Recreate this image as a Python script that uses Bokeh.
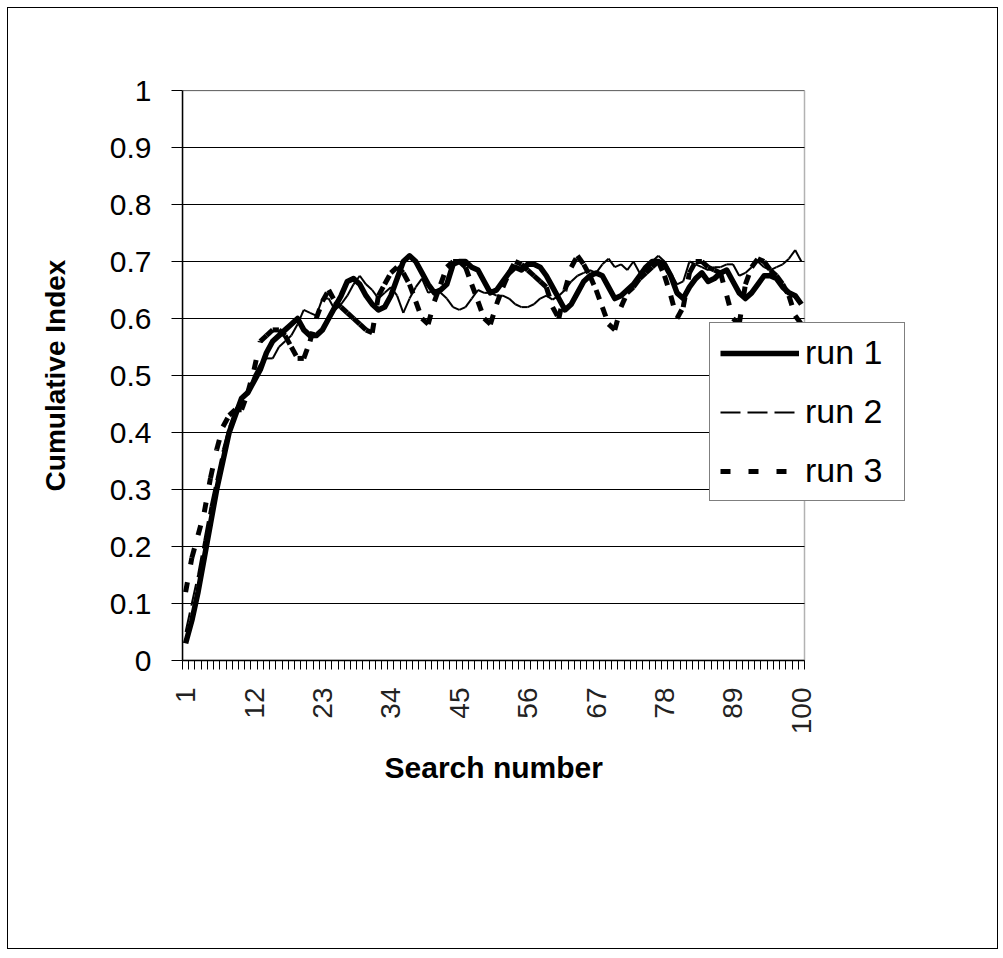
import numpy as np
from bokeh.plotting import figure
from bokeh.models import (FixedTicker, NumeralTickFormatter, Legend, LegendItem,
                          ColumnDataSource, BoxAnnotation, Title)
from bokeh.embed import file_html
from bokeh.resources import INLINE

search = list(range(1, 101))

run1 = [0.03, 0.07, 0.12, 0.18, 0.24, 0.30, 0.35, 0.40, 0.43, 0.46,
        0.47, 0.49, 0.51, 0.54, 0.56, 0.57, 0.58, 0.59, 0.60, 0.58,
        0.57, 0.57, 0.58, 0.60, 0.62, 0.64, 0.665, 0.67, 0.66, 0.64,
        0.625, 0.615, 0.62, 0.64, 0.67, 0.70, 0.71, 0.70, 0.68, 0.66,
        0.645, 0.65, 0.66, 0.695, 0.70, 0.70, 0.69, 0.685, 0.665, 0.645,
        0.65, 0.665, 0.68, 0.69, 0.685, 0.695, 0.695, 0.69, 0.675, 0.655,
        0.635, 0.615, 0.625, 0.645, 0.665, 0.675, 0.68, 0.675, 0.655, 0.635,
        0.64, 0.65, 0.66, 0.675, 0.69, 0.70, 0.70, 0.695, 0.675, 0.645,
        0.635, 0.655, 0.67, 0.68, 0.665, 0.67, 0.68, 0.685, 0.665, 0.645,
        0.635, 0.645, 0.66, 0.675, 0.675, 0.67, 0.655, 0.645, 0.64, 0.625]

run2 = [0.05, 0.10, 0.15, 0.21, 0.27, 0.32, 0.37, 0.41, 0.44, 0.46,
        0.47, 0.50, 0.52, 0.53, 0.53, 0.55, 0.56, 0.57, 0.59, 0.615,
        0.61, 0.605, 0.635, 0.635, 0.615, 0.625, 0.64, 0.66, 0.675, 0.66,
        0.65, 0.635, 0.645, 0.655, 0.64, 0.61, 0.635, 0.655, 0.67, 0.645,
        0.65, 0.645, 0.635, 0.62, 0.615, 0.62, 0.635, 0.65, 0.645, 0.645,
        0.64, 0.64, 0.635, 0.625, 0.62, 0.62, 0.625, 0.635, 0.64, 0.633,
        0.64, 0.65, 0.665, 0.675, 0.68, 0.685, 0.68, 0.695, 0.705, 0.69,
        0.695, 0.685, 0.70, 0.68, 0.69, 0.70, 0.71, 0.70, 0.68, 0.66,
        0.665, 0.70, 0.695, 0.69, 0.685, 0.69, 0.69, 0.695, 0.695, 0.675,
        0.68, 0.69, 0.70, 0.69, 0.685, 0.69, 0.695, 0.705, 0.72, 0.70]

run3 = [0.12, 0.18, 0.22, 0.26, 0.32, 0.37, 0.41, 0.43, 0.44, 0.44,
        0.47, 0.51, 0.56, 0.57, 0.58, 0.58, 0.57, 0.55, 0.53, 0.53,
        0.56, 0.60, 0.63, 0.65, 0.63, 0.62, 0.61, 0.60, 0.59, 0.58,
        0.575, 0.64, 0.66, 0.68, 0.69, 0.68, 0.66, 0.63, 0.60, 0.59,
        0.63, 0.66, 0.69, 0.70, 0.70, 0.69, 0.66, 0.63, 0.60, 0.59,
        0.625, 0.655, 0.68, 0.70, 0.695, 0.685, 0.675, 0.665, 0.655, 0.62,
        0.60, 0.65, 0.69, 0.71, 0.695, 0.675, 0.65, 0.62, 0.59, 0.58,
        0.62, 0.645, 0.655, 0.67, 0.68, 0.69, 0.70, 0.675, 0.64, 0.60,
        0.62, 0.68, 0.70, 0.70, 0.69, 0.685, 0.68, 0.64, 0.60, 0.59,
        0.66, 0.69, 0.705, 0.70, 0.685, 0.675, 0.66, 0.64, 0.605, 0.59]

series_names = ["run 1", "run 2", "run 3"]
x_tick_values = [1, 12, 23, 34, 45, 56, 67, 78, 89, 100]
y_tick_values = [0, 0.1, 0.2, 0.3, 0.4, 0.5, 0.6, 0.7, 0.8, 0.9, 1]
x_title = "Search number"
y_title = "Cumulative Index"

FONT = "Liberation Sans"

# plot area spans categories 0.5 .. 100.5 ; the frame is widened to the right
# so that the legend (which overlaps the plot area edge) is not clipped
x_lo, x_hi = 0.5, len(search) + 0.5
y_lo, y_hi = 0, 1
plot_px = 622                     # width of the visible plot area
frame_px = 727                    # widened frame
x_end = x_lo + (x_hi - x_lo) * frame_px / plot_px

W, H = 991, 942
B_LEFT, B_TOP, FRAME_H = 174, 82, 570


def seg_source(xs, ys):
    return ColumnDataSource(dict(x0=xs[:-1], y0=ys[:-1], x1=xs[1:], y1=ys[1:]))


p = figure(width=W, height=H,
           x_range=(x_lo, x_end), y_range=(y_lo, y_hi),
           output_backend="svg", toolbar_location=None,
           min_border_left=B_LEFT, min_border_right=W - B_LEFT - frame_px,
           min_border_top=B_TOP, min_border_bottom=H - B_TOP - FRAME_H)
p.styles = {"border": "1px solid #000000", "margin-left": "7px", "margin-top": "7px"}

p.background_fill_color = "white"
p.border_fill_color = "white"
p.outline_line_color = None
p.xgrid.visible = False
p.ygrid.visible = False

# horizontal gridlines limited to the plot area
p.segment(x0=[x_lo] * len(y_tick_values), x1=[x_hi] * len(y_tick_values),
          y0=y_tick_values, y1=y_tick_values, line_color="black", line_width=1)

# y axis
ya = p.yaxis[0]
ya.ticker = FixedTicker(ticks=y_tick_values)
ya.formatter = NumeralTickFormatter(format="0.[0]")
ya.major_tick_out = 11
ya.major_tick_in = 0
ya.minor_tick_line_color = None
ya.major_tick_line_color = "black"
ya.axis_line_color = "black"
ya.axis_line_width = 1.5
ya.major_label_text_font = FONT
ya.major_label_text_font_size = "30px"
ya.major_label_text_color = "black"
ya.major_label_standoff = 20
ya.axis_label = y_title
ya.axis_label_text_font = FONT
ya.axis_label_text_font_style = "bold"
ya.axis_label_text_font_size = "28px"
ya.axis_label_text_color = "black"
ya.axis_label_standoff = 36

# x axis (category style ticks between categories)
xa = p.xaxis[0]
xa.bounds = (x_lo, x_hi)
xa.ticker = FixedTicker(ticks=x_tick_values,
                        minor_ticks=[k + 0.5 for k in range(len(search) + 1)])
xa.major_tick_out = 9
xa.major_tick_in = 0
xa.major_tick_line_color = None
xa.minor_tick_out = 9
xa.minor_tick_in = 0
xa.minor_tick_line_color = "black"
xa.axis_line_color = "black"
xa.axis_line_width = 1.5
xa.major_label_orientation = np.pi / 2
xa.major_label_text_font = FONT
xa.major_label_text_font_size = "28px"
xa.major_label_text_color = "#222222"
xa.major_label_standoff = 18

# x-axis title centred under the plot area (not the widened frame)
p.add_layout(Title(text=x_title, align="left", offset=202, text_font=FONT,
                   text_font_size="30px", text_font_style="bold",
                   text_color="black", standoff=22), "below")

# series
r1 = p.line(search, run1, line_color="black", line_width=5.5, line_join="round")
r2 = p.segment(x0="x0", y0="y0", x1="x1", y1="y1", source=seg_source(search, run2),
               line_color="black", line_width=2, line_dash="20 7")
r3 = p.segment(x0="x0", y0="y0", x1="x1", y1="y1", source=seg_source(search, run3),
               line_color="black", line_width=5, line_dash="10 18")

# plot-area border
p.add_layout(BoxAnnotation(left=x_lo, right=x_hi, bottom=y_lo, top=y_hi,
                           fill_alpha=0, fill_color=None,
                           line_color="black", line_width=1.5))

legend = Legend(items=[LegendItem(label=series_names[0], renderers=[r1]),
                       LegendItem(label=series_names[1], renderers=[r2]),
                       LegendItem(label=series_names[2], renderers=[r3])],
                location=(527, 159))
legend.border_line_color = "black"
legend.border_line_width = 1
legend.background_fill_color = "white"
legend.background_fill_alpha = 1
legend.padding = 10
legend.spacing = 20
legend.margin = 0
legend.glyph_width = 79
legend.glyph_height = 36
legend.label_height = 36
legend.label_width = 89
legend.label_standoff = 6
legend.label_text_font = FONT
legend.label_text_font_size = "34px"
legend.label_text_color = "black"
p.add_layout(legend)

open("out.html", "w").write(file_html(p, INLINE))
